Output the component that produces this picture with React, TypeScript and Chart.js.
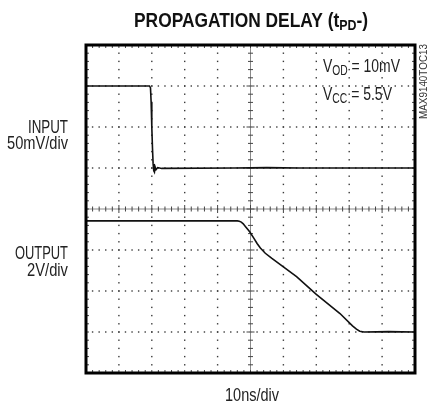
import React, { useEffect, useRef } from "react";
import { Chart, registerables } from "chart.js";

Chart.register(...registerables);

// Time in divisions (10ns/div), level in vertical divisions (0..8 from bottom)
const inputTime = [0, 1.93, 1.96, 1.98, 2.0, 2.02, 2.04, 2.06, 2.08, 2.1, 2.13, 2.18, 2.3, 4.5, 5.5, 6.5, 10];
const inputLevel = [7.0, 7.0, 6.96, 6.6, 6.0, 5.5, 5.1, 4.93, 4.9, 5.03, 4.96, 5.01, 4.99, 5.0, 5.01, 5.0, 5.0];

const outputTime = [0, 4.6, 4.66, 4.72, 4.78, 4.85, 4.92, 4.98, 5.1, 5.2, 5.3, 5.45, 5.64, 6.0, 6.4, 7.0, 7.72, 8.1, 8.22, 8.32, 8.45, 9.2, 10];
const outputLevel = [3.71, 3.71, 3.70, 3.68, 3.64, 3.57, 3.5, 3.44, 3.29, 3.16, 3.05, 2.92, 2.8, 2.59, 2.35, 1.92, 1.45, 1.15, 1.07, 1.02, 1.0, 1.01, 1.0];

const xDivisions = 10;
const yDivisions = 8;

const titleText = ["PROPAGATION DELAY (t", "PD", "-)"];
const inputLabel = ["INPUT", "50mV/div"];
const outputLabel = ["OUTPUT", "2V/div"];
const timeLabel = "10ns/div";
const vodText = ["V", "OD", " = 10mV"];
const vccText = ["V", "CC", " = 5.5V"];
const figureId = "MAX9140TOC13";

const FONT = "'Liberation Sans', Arial, sans-serif";

type Part = { text: string; size: number; dy: number; bold?: boolean };

// draws text parts, horizontally condensed to the given width
function drawRich(
  ctx: CanvasRenderingContext2D,
  parts: Part[],
  x: number,
  y: number,
  align: "left" | "center" | "right",
  width: number
) {
  ctx.save();
  ctx.textAlign = "left";
  ctx.textBaseline = "alphabetic";
  let total = 0;
  const widths = parts.map((p) => {
    ctx.font = `${p.bold ? "bold " : ""}${p.size}px ${FONT}`;
    const w = ctx.measureText(p.text).width;
    total += w;
    return w;
  });
  const sx = width / total;
  const x0 = align === "left" ? x : align === "center" ? x - width / 2 : x - width;
  ctx.translate(x0, y);
  ctx.scale(sx, 1);
  let cx = 0;
  parts.forEach((p, i) => {
    ctx.font = `${p.bold ? "bold " : ""}${p.size}px ${FONT}`;
    ctx.fillText(p.text, cx, p.dy);
    cx += widths[i];
  });
  ctx.restore();
}

const scopePlugin = {
  id: "scopeGrid",
  beforeDatasetsDraw(chart: any) {
    const { ctx, chartArea: a, scales } = chart;
    const x = scales.x;
    const y = scales.y;
    ctx.save();
    ctx.fillStyle = "#3a3a3a";
    for (let i = 1; i < xDivisions; i++) {
      if (i === xDivisions / 2) continue;
      const px = x.getPixelForValue(i);
      for (let j = 0; j <= yDivisions * 5; j++) {
        const py = y.getPixelForValue(j * 0.2);
        ctx.fillRect(px - 0.7, py - 0.7, 1.4, 1.4);
      }
    }
    for (let i = 1; i < yDivisions; i++) {
      if (i === yDivisions / 2) continue;
      const py = y.getPixelForValue(i);
      for (let j = 0; j <= xDivisions * 5; j++) {
        const px = x.getPixelForValue(j * 0.2);
        ctx.fillRect(px - 0.7, py - 0.7, 1.4, 1.4);
      }
    }
    const cx = x.getPixelForValue(xDivisions / 2);
    const cy = y.getPixelForValue(yDivisions / 2);
    ctx.strokeStyle = "#8a8a8a";
    ctx.lineWidth = 1;
    ctx.beginPath();
    ctx.moveTo(a.left, cy);
    ctx.lineTo(a.right, cy);
    ctx.moveTo(cx, a.top);
    ctx.lineTo(cx, a.bottom);
    ctx.stroke();
    ctx.strokeStyle = "#444";
    ctx.beginPath();
    for (let j = 0; j <= xDivisions * 5; j++) {
      const px = x.getPixelForValue(j * 0.2);
      const len = j % 5 === 0 ? 4 : 2.5;
      ctx.moveTo(px, cy - len);
      ctx.lineTo(px, cy + len);
      ctx.moveTo(px, a.top);
      ctx.lineTo(px, a.top + 3);
      ctx.moveTo(px, a.bottom);
      ctx.lineTo(px, a.bottom - 3);
    }
    for (let j = 0; j <= yDivisions * 5; j++) {
      const py = y.getPixelForValue(j * 0.2);
      const len = j % 5 === 0 ? 4 : 2.5;
      ctx.moveTo(cx - len, py);
      ctx.lineTo(cx + len, py);
      ctx.moveTo(a.left, py);
      ctx.lineTo(a.left + 3, py);
      ctx.moveTo(a.right, py);
      ctx.lineTo(a.right - 3, py);
    }
    ctx.stroke();
    ctx.restore();
  },
  afterDraw(chart: any) {
    const { ctx, chartArea: a } = chart;
    ctx.save();
    ctx.strokeStyle = "#000";
    ctx.lineWidth = 3;
    ctx.strokeRect(a.left, a.top, a.right - a.left, a.bottom - a.top);
    ctx.fillStyle = "#111";
    drawRich(
      ctx,
      [
        { text: titleText[0], size: 21, dy: 0, bold: true },
        { text: titleText[1], size: 15, dy: 3, bold: true },
        { text: titleText[2], size: 21, dy: 0, bold: true },
      ],
      251,
      27,
      "center",
      234
    );
    ctx.fillStyle = "#222";
    drawRich(ctx, [{ text: inputLabel[0], size: 19, dy: 0 }], 68, 133, "right", 40);
    drawRich(ctx, [{ text: inputLabel[1], size: 19, dy: 0 }], 68, 149, "right", 61);
    drawRich(ctx, [{ text: outputLabel[0], size: 19, dy: 0 }], 68, 259, "right", 53);
    drawRich(ctx, [{ text: outputLabel[1], size: 19, dy: 0 }], 68, 276, "right", 41);
    drawRich(ctx, [{ text: timeLabel, size: 19, dy: 0 }], 252, 401, "center", 54);
    drawRich(
      ctx,
      [
        { text: vodText[0], size: 19, dy: 0 },
        { text: vodText[1], size: 14, dy: 2.5 },
        { text: vodText[2], size: 19, dy: 0 },
      ],
      323,
      72,
      "left",
      77
    );
    drawRich(
      ctx,
      [
        { text: vccText[0], size: 19, dy: 0 },
        { text: vccText[1], size: 14, dy: 2.5 },
        { text: vccText[2], size: 19, dy: 0 },
      ],
      323,
      100,
      "left",
      69
    );
    ctx.translate(427, 44);
    ctx.rotate(-Math.PI / 2);
    ctx.fillStyle = "#333";
    drawRich(ctx, [{ text: figureId, size: 11, dy: 0 }], 0, 0, "right", 75);
    ctx.restore();
  },
};

export default function App() {
  const ref = useRef<HTMLCanvasElement | null>(null);
  useEffect(() => {
    if (!ref.current) return;
    const chart = new Chart(ref.current, {
      type: "line",
      data: {
        datasets: [
          {
            label: "INPUT",
            data: inputTime.map((t, i) => ({ x: t, y: inputLevel[i] })),
            borderColor: "#111",
            borderWidth: 1.6,
            pointRadius: 0,
            tension: 0,
            fill: false,
          },
          {
            label: "OUTPUT",
            data: outputTime.map((t, i) => ({ x: t, y: outputLevel[i] })),
            borderColor: "#111",
            borderWidth: 1.6,
            pointRadius: 0,
            tension: 0,
            fill: false,
          },
        ],
      },
      options: {
        animation: false,
        responsive: false,
        layout: { padding: { left: 86, right: 14, top: 45, bottom: 33 } },
        plugins: { legend: { display: false }, tooltip: { enabled: false }, title: { display: false } },
        scales: {
          x: { type: "linear", min: 0, max: xDivisions, display: false },
          y: { type: "linear", min: 0, max: yDivisions, display: false },
        },
      },
      plugins: [scopePlugin],
    });
    return () => chart.destroy();
  }, []);
  return (
    <div style={{ position: "absolute", left: 0, top: 0, width: 429, height: 406, background: "#fff" }}>
      <canvas ref={ref} width={429} height={406} />
    </div>
  );
}
